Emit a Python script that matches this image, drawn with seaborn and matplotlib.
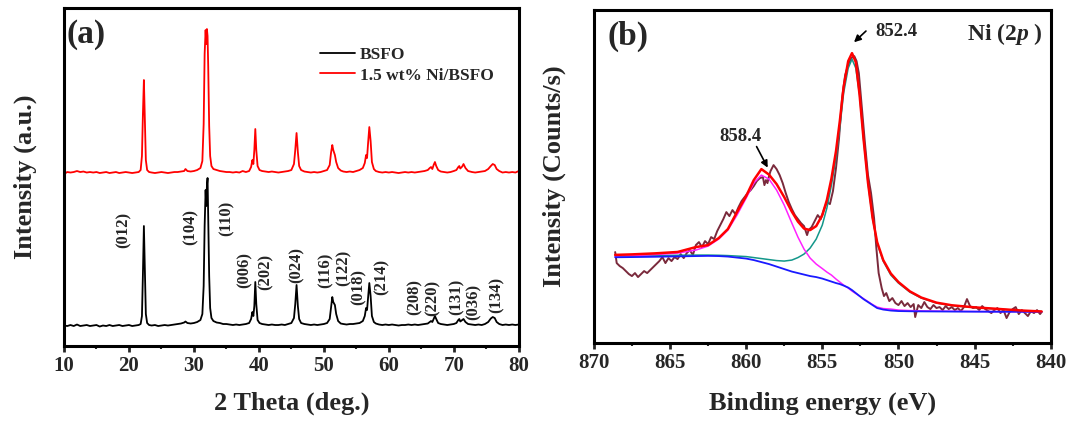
import pandas as pd
import seaborn as sns
import matplotlib.pyplot as plt
from matplotlib.ticker import MultipleLocator

# ---- (a) XRD patterns ----
two_theta = [
    10.0, 10.5, 11.0, 11.5, 12.0, 12.5, 13.0, 13.5, 14.0, 14.5,
    15.0, 15.5, 16.0, 16.5, 17.0, 17.5, 18.0, 18.5, 19.0, 19.5,
    20.0, 20.5, 21.0, 21.5, 21.8, 22.0, 22.15, 22.3, 22.45, 22.6,
    22.8, 23.1, 23.5, 24.0, 24.5, 25.0, 25.5, 26.0, 26.5, 27.0,
    27.5, 28.0, 28.5, 28.7, 29.0, 29.5, 30.0, 30.5, 31.0, 31.3,
    31.5, 31.65, 31.8, 31.9, 32.0, 32.1, 32.2, 32.35, 32.5, 32.7,
    33.0, 33.5, 34.0, 34.5, 35.0, 35.5, 36.0, 36.5, 37.0, 37.5,
    38.0, 38.5, 38.8, 39.0, 39.15, 39.3, 39.45, 39.6, 39.8, 40.1,
    40.5, 41.0, 41.5, 42.0, 42.5, 43.0, 43.5, 44.0, 44.5, 45.0,
    45.4, 45.6, 45.8, 46.0, 46.2, 46.5, 47.0, 47.5, 48.0, 48.5,
    49.0, 49.5, 50.0, 50.5, 50.9, 51.1, 51.3, 51.45, 51.7, 51.9,
    52.2, 52.6, 53.0, 53.5, 54.0, 54.5, 55.0, 55.5, 56.0, 56.3,
    56.5, 56.65, 56.8, 57.0, 57.2, 57.4, 57.7, 58.0, 58.5, 59.0,
    59.5, 60.0, 60.5, 61.0, 61.5, 62.0, 62.5, 63.0, 63.5, 64.0,
    64.5, 65.0, 65.5, 66.0, 66.3, 66.5, 66.7, 66.9, 67.1, 67.3,
    67.6, 68.0, 68.5, 69.0, 69.5, 70.0, 70.4, 70.7, 70.85, 71.0,
    71.3, 71.5, 71.8, 72.2, 72.8, 73.3, 73.8, 74.3, 74.8, 75.3,
    75.7, 76.0, 76.3, 76.6, 77.0, 77.5, 78.0, 78.5, 79.0, 79.5,
    80.0,
]
bsfo = [
    20.5, 20, 21, 20, 21.5, 20, 20.5, 21, 20, 20.5,
    21, 19.5, 20.5, 20, 21, 20, 20.5, 21, 20, 20.5,
    21, 20, 20.5, 21, 22, 30, 72, 120, 76, 32,
    23, 21, 20.5, 21, 20, 20.5, 21, 20.5, 21, 21.5,
    22, 22.5, 23.5, 24.5, 23, 22.5, 23, 24, 26, 32,
    60, 120, 156, 140, 160, 168, 130, 70, 38, 28,
    25, 23.5, 23, 22, 22, 21.5, 21, 21.5, 21, 21.5,
    22, 23, 27, 34, 30, 40, 64, 42, 26, 23,
    22, 21.5, 21, 21.5, 21, 21, 21.5, 21, 22, 23,
    28, 42, 61, 40, 27, 23, 22, 21.5, 21, 21.5,
    21, 21.5, 22, 23, 27, 38, 49, 44, 41, 32,
    25, 22.5, 22, 21.5, 22, 22, 22.5, 23, 25, 30,
    38, 36, 48, 63, 50, 30, 24, 22.5, 21.5, 21,
    21.5, 21, 21.5, 21, 20.5, 21, 21, 21.5, 21, 21.5,
    21, 21.5, 22, 22.5, 24, 25, 24, 27, 30, 27,
    23, 22, 21.5, 21, 21.5, 22, 23, 26, 27, 24.5,
    26, 27, 24, 22, 21.5, 21, 21.5, 21, 22, 24,
    27.5, 29, 28, 24, 22, 21, 21.5, 21, 21.5, 21,
    21.5,
]
ni_bsfo = [
    172, 174, 173.5, 174, 175, 174, 174.5, 173.5, 174, 173.5,
    174, 173, 173.5, 174, 173, 173.5, 174, 173, 173.5, 174,
    173.5, 173, 173.5, 174, 176, 190, 232, 266, 228, 186,
    176, 174, 173.5, 173, 173.5, 174, 173.5, 173, 173.5, 174,
    174, 174.5, 175, 177, 175, 174.5, 175, 176, 178, 185,
    222, 292, 316, 302, 317, 310, 280, 220, 190, 180,
    177, 176, 175, 174.5, 174, 174, 173.5, 174, 173.5, 175,
    174, 175, 179, 186, 182, 196, 217, 196, 180, 176,
    175, 174.5, 174, 174.5, 174, 173.5, 174, 174.5, 175, 176,
    182, 196, 213, 194, 180, 176, 174.5, 174, 173.5, 174,
    173.5, 174, 175, 176, 181, 193, 201, 196, 191, 184,
    178, 175.5, 174.5, 174, 174.5, 174, 175, 176, 178, 183,
    191, 188, 202, 219, 205, 184, 177, 175, 174, 173.5,
    174, 173.5, 174, 173.5, 173, 173.5, 174, 173.5, 174, 173.5,
    174, 174.5, 175, 176, 178, 179, 177, 181, 184, 180,
    176, 174.5, 174, 173.5, 174, 175, 176, 179, 180, 177.5,
    179.5, 182, 178, 175, 174, 173.5, 174, 174.5, 175, 177,
    180, 182, 181, 177, 175, 173.5, 174, 173.5, 174, 173.5,
    175,
]
hkl_labels = ['(012)', '(104)', '(110)', '(006)', '(202)', '(024)', '(116)', '(122)',
              '(018)', '(214)', '(208)', '(220)', '(131)', '(036)', '(134)']
hkl_x = [19.2, 29.5, 35.0, 37.8, 41.1, 45.8, 50.2, 53.1, 55.4, 58.9, 64.0, 66.8, 70.5, 73.0, 76.6]
hkl_y = [116, 119, 128, 76, 74, 81, 76, 78, 59, 69, 49, 48, 49, 44, 51]

# ---- (b) Ni 2p XPS ----
be_fit = [840.6, 842, 843.5, 845, 846.5, 847.5, 848.5, 849.25, 850.0, 850.5,
          851.0, 851.4, 851.7, 852.0, 852.3, 852.55, 852.8, 853.05, 853.3, 853.6,
          853.85, 854.1, 854.4, 854.7, 855.0, 855.4, 855.8, 856.2, 856.6, 857.0,
          857.5, 858.0, 858.5, 859.0, 859.5, 860.0, 860.6, 861.2, 861.8, 862.5,
          863.3, 864.5, 866.0, 867.5, 868.6]
background = [31.2, 31.3, 31.3, 31.4, 31.5, 31.6, 31.7, 31.8, 32, 32.5,
              33.5, 35, 38, 41, 44, 47, 50, 53, 55.5, 57.5,
              59, 60, 61.5, 63, 64.5, 66, 67, 68.5, 70, 71.5,
              74, 76.5, 79, 81, 83, 84.5, 85.5, 86.5, 87, 87.2,
              87, 86.7, 86.3, 86, 85.8]
peak_852 = [31.5, 32.5, 34, 35.5, 37.5, 40, 45, 51, 60, 68,
            82, 100, 125, 160, 205, 248, 275, 284, 275, 250,
            215, 185, 158, 135, 118, 104, 95, 89, 85.5, 83,
            82, 82.5, 83.5, 84.5, 85.5, 86.5, 87, 87.5, 87.8, 88,
            88, 87.8, 87.5, 87.2, 87]
peak_858 = [31.3, 31.4, 31.5, 31.6, 31.8, 32, 32.2, 32.5, 33, 34,
            34.5, 36, 38.5, 41.5, 44.5, 47, 49.5, 52, 55, 58,
            61, 64, 68, 71, 74.5, 79, 85, 94, 106, 120,
            138, 153, 164, 168, 160, 145, 128, 113, 104, 97,
            93, 90, 88.5, 87.5, 87]
envelope = [31.6, 32.6, 34.2, 35.7, 37.8, 40.4, 45.5, 51.7, 61, 69.5,
            83, 101, 125.5, 160.5, 205.5, 248, 281, 290, 282, 256,
            222, 192, 164.5, 143, 128, 117, 113, 114.5, 121.5, 131.5,
            146, 159, 168.5, 174, 163, 147, 131, 114, 105, 98,
            96, 91.1, 89.7, 88.7, 88.2]

be_raw = [868.6, 868.5, 868.3, 868.1, 867.9, 867.7, 867.5, 867.3, 867.1, 866.9,
          866.7, 866.5, 866.3, 866.1, 865.9, 865.7, 865.5, 865.3, 865.1, 864.9,
          864.7, 864.5, 864.3, 864.1, 863.9, 863.7, 863.5, 863.3, 863.1, 862.9,
          862.7, 862.5, 862.3, 862.1, 861.9, 861.7, 861.5, 861.3, 861.1, 860.9,
          860.7, 860.5, 860.3, 860.1, 859.9, 859.7, 859.5, 859.3, 859.1, 858.9,
          858.8, 858.7, 858.6, 858.5, 858.4, 858.2, 858.0, 857.8, 857.6, 857.4,
          857.2, 857.0, 856.8, 856.6, 856.4, 856.2, 856.0, 855.9, 855.7, 855.5,
          855.3, 855.1, 854.9, 854.7, 854.5, 854.3, 854.1, 853.9, 853.7, 853.5,
          853.3, 853.1, 852.9, 852.75, 852.6, 852.4, 852.2, 852.0, 851.8, 851.6,
          851.45, 851.3, 851.1, 850.95, 850.8, 850.6, 850.4, 850.2, 850.0, 849.8,
          849.6, 849.4, 849.2, 849.0, 848.9, 848.7, 848.5, 848.3, 848.1, 847.9,
          847.7, 847.5, 847.3, 847.1, 846.9, 846.7, 846.5, 846.3, 846.1, 845.9,
          845.7, 845.5, 845.3, 845.1, 844.9, 844.7, 844.5, 844.3, 844.1, 843.9,
          843.7, 843.5, 843.3, 843.1, 842.9, 842.7, 842.5, 842.3, 842.1, 841.9,
          841.7, 841.5, 841.3, 841.1, 840.9, 840.7, 840.6]
counts_raw = [91, 80, 77, 75, 72, 69, 67, 70, 66, 69,
              72, 70, 73, 76, 79, 82, 86, 80, 85, 82,
              86, 84, 89, 85, 90, 93, 88, 98, 101, 96,
              102, 99, 106, 104, 112, 118, 124, 131, 127, 133,
              129, 136, 142, 146, 150, 153, 157, 162, 165, 166,
              158, 163, 160, 167, 172, 178, 174, 168, 160, 150,
              141, 134, 128, 124, 120, 117, 108, 113, 116, 122,
              128, 124, 133, 141, 139, 152, 175, 205, 245, 268,
              278, 285, 287, 282, 270, 235, 200, 168, 150, 125,
              95, 70, 55, 47, 50, 42, 45, 40, 38, 42,
              37, 40, 36, 39, 26, 38, 35, 41, 36, 34,
              38, 35, 36, 33, 37, 34, 36, 33, 35, 32,
              36, 44, 37, 35, 36, 33, 37, 34, 32, 30,
              33, 35, 30, 33, 25, 31, 34, 36, 29, 33,
              30, 27, 32, 30, 33, 29, 31]

sns.set_style('ticks')
plt.rcParams['font.family'] = ['Liberation Serif', 'DejaVu Serif']
plt.rcParams['font.weight'] = 'bold'
plt.rcParams['axes.labelweight'] = 'bold'
plt.rcParams['mathtext.fontset'] = 'custom'
plt.rcParams['mathtext.it'] = 'Liberation Serif:italic:bold'
plt.rcParams['mathtext.rm'] = 'Liberation Serif:bold'

fig = plt.figure(figsize=(10.7, 4.23), dpi=100)
ax1 = fig.add_axes([0.0598, 0.182, 0.425, 0.799])
ax2 = fig.add_axes([0.555, 0.189, 0.427, 0.787])

df_xrd = pd.DataFrame({'2theta': two_theta, 'BSFO': bsfo, 'Ni': ni_bsfo})
sns.lineplot(data=df_xrd, x='2theta', y='BSFO', color='black', lw=1.3,
             estimator=None, label='BSFO', ax=ax1)
sns.lineplot(data=df_xrd, x='2theta', y='Ni', color='#ff0000', lw=1.3,
             estimator=None, label='1.5 wt% Ni/BSFO', ax=ax1)
for lab, hx, hy in zip(hkl_labels, hkl_x, hkl_y):
    ax1.text(hx, hy, lab, rotation=90, ha='center', va='center', fontsize=12, fontweight='bold')

ax1.set_xlim(10, 80)
ax1.set_ylim(0, 338)
ax1.set_yticks([])
ax1.xaxis.set_major_locator(MultipleLocator(10))
ax1.xaxis.set_minor_locator(MultipleLocator(5))
ax1.set_xlabel('2 Theta (deg.)', fontsize=19)
ax1.set_ylabel('Intensity (a.u.)', fontsize=19)
ax1.xaxis.set_label_coords(0.5, -0.135)
ax1.yaxis.set_label_coords(-0.06, 0.5)
ax1.text(10.4, 312, '(a)', fontsize=24, fontweight='bold', ha='left', va='center')
ax1.legend(loc='upper left', bbox_to_anchor=(0.563, 0.885), frameon=False, fontsize=12.5,
           handlelength=2.0, handletextpad=0.3, labelspacing=0.25, borderaxespad=0, borderpad=0)

df_fit = pd.DataFrame({'be': be_fit, 'bg': background, 'p852': peak_852,
                       'p858': peak_858, 'env': envelope})
df_raw = pd.DataFrame({'be': be_raw, 'counts': counts_raw})
sns.lineplot(data=df_raw, x='be', y='counts', color='#7a2a3c', lw=1.4, estimator=None, ax=ax2)
sns.lineplot(data=df_fit, x='be', y='p852', color='#13978a', lw=1.1, estimator=None, ax=ax2)
sns.lineplot(data=df_fit, x='be', y='p858', color='#ff22ff', lw=1.1, estimator=None, ax=ax2)
sns.lineplot(data=df_fit, x='be', y='bg', color='#1a1aff', lw=1.3, estimator=None, ax=ax2)
sns.lineplot(data=df_fit, x='be', y='env', color='#ff0000', lw=1.8, estimator=None, ax=ax2)

ax2.set_xlim(870, 840)
ax2.set_ylim(0, 333)
ax2.set_yticks([])
ax2.xaxis.set_major_locator(MultipleLocator(5))
ax2.xaxis.set_minor_locator(MultipleLocator(2.5))
ax2.set_xlabel('Binding energy (eV)', fontsize=19)
ax2.set_ylabel('Intensity (Counts/s)', fontsize=19)
ax2.xaxis.set_label_coords(0.5, -0.145)
ax2.yaxis.set_label_coords(-0.06, 0.5)
ax2.text(869.1, 307, '(b)', fontsize=24, fontweight='bold', ha='left', va='center')
ax2.text(840.5, 309, r'Ni ($\mathit{2p}$ )', fontsize=17, fontweight='bold', ha='right', va='center')
ax2.text(850.15, 312, '852.4', fontsize=13.5, fontweight='bold', ha='center', va='center')
ax2.text(860.4, 207, '858.4', fontsize=13.5, fontweight='bold', ha='center', va='center')
arrow = dict(arrowstyle='-|>', color='black', lw=1.2, mutation_scale=10)
ax2.annotate('', xy=(853.05, 299), xytext=(852.0, 314), arrowprops=arrow)
ax2.annotate('', xy=(858.5, 173), xytext=(859.4, 199), arrowprops=arrow)

for ax in (ax1, ax2):
    for sp in ax.spines.values():
        sp.set_visible(True)
        sp.set_linewidth(2.2)
        sp.set_color('black')
    ax.tick_params(axis='x', which='major', direction='out', length=4.5, width=2,
                   labelsize=15, pad=3)
    ax.tick_params(axis='x', which='minor', direction='out', length=2.5, width=1.5)
    for t in ax.get_xticklabels():
        t.set_fontweight('bold')

fig.savefig('out.png', dpi=100, facecolor='white')
